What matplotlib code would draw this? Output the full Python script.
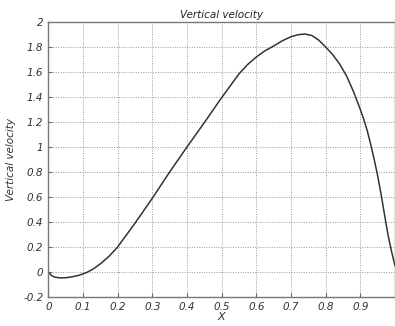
import matplotlib
matplotlib.use("Agg")
import matplotlib.pyplot as plt

# valeurs
x = [0, 0.01, 0.02, 0.034, 0.05, 0.07, 0.09, 0.11, 0.13, 0.15, 0.175, 0.2,
     0.25, 0.3, 0.35, 0.4, 0.45, 0.5, 0.525, 0.55, 0.575, 0.6, 0.625, 0.65,
     0.675, 0.7, 0.72, 0.74, 0.76, 0.78, 0.8, 0.82, 0.84, 0.86, 0.88, 0.9,
     0.91, 0.92, 0.93, 0.94, 0.95, 0.96, 0.97, 0.98, 0.99, 1.0]
vy = [0, -0.03, -0.042, -0.047, -0.046, -0.038, -0.025, -0.005, 0.025, 0.065,
      0.125, 0.2, 0.39, 0.59, 0.8, 1.0, 1.195, 1.395, 1.49, 1.585, 1.66, 1.72,
      1.77, 1.808, 1.85, 1.882, 1.898, 1.904, 1.892, 1.855, 1.8, 1.74, 1.665,
      1.57, 1.445, 1.3, 1.22, 1.13, 1.02, 0.9, 0.77, 0.62, 0.455, 0.295, 0.165,
      0.05]

xticks = [0, 0.1, 0.2, 0.3, 0.4, 0.5, 0.6, 0.7, 0.8, 0.9]
xticklabels = ['0', '0.1', '0.2', '0.3', '0.4', '0.5', '0.6', '0.7', '0.8', '0.9']
yticks = [-0.2, 0, 0.2, 0.4, 0.6, 0.8, 1, 1.2, 1.4, 1.6, 1.8, 2]
yticklabels = ['-0.2', '0', '0.2', '0.4', '0.6', '0.8', '1', '1.2', '1.4', '1.6', '1.8', '2']

fig = plt.figure(figsize=(3.95, 3.26), dpi=100)
ax = fig.add_axes([48.3/395, 1 - 297/326, 1 - 48.3/395, 275/326])

ax.plot(x, vy, color='#333333', linewidth=1.1)

ax.set_xlim(0, 1.0)
ax.set_ylim(-0.2, 2)
ax.set_xticks(xticks)
ax.set_xticklabels(xticklabels)
ax.set_yticks(yticks)
ax.set_yticklabels(yticklabels)
ax.grid(True, linestyle=(0, (1, 1.5)), color='#999999', linewidth=0.7)
ax.tick_params(direction='in', length=3, color='#666666', labelsize=7.5,
               labelcolor='#333333')
for lbl in ax.get_xticklabels() + ax.get_yticklabels():
    lbl.set_fontstyle('italic')
for s in ax.spines.values():
    s.set_color('#777777')
    s.set_linewidth(1.0)

ax.set_title('Vertical velocity', fontsize=7.5, fontstyle='italic', pad=3, color='#222222')
ax.set_xlabel('X', fontsize=8, fontstyle='italic', labelpad=0, color='#333333')
ax.set_ylabel('Vertical velocity', fontsize=7.5, fontstyle='italic', labelpad=5, color='#333333')

fig.savefig('out.png', dpi=100)
